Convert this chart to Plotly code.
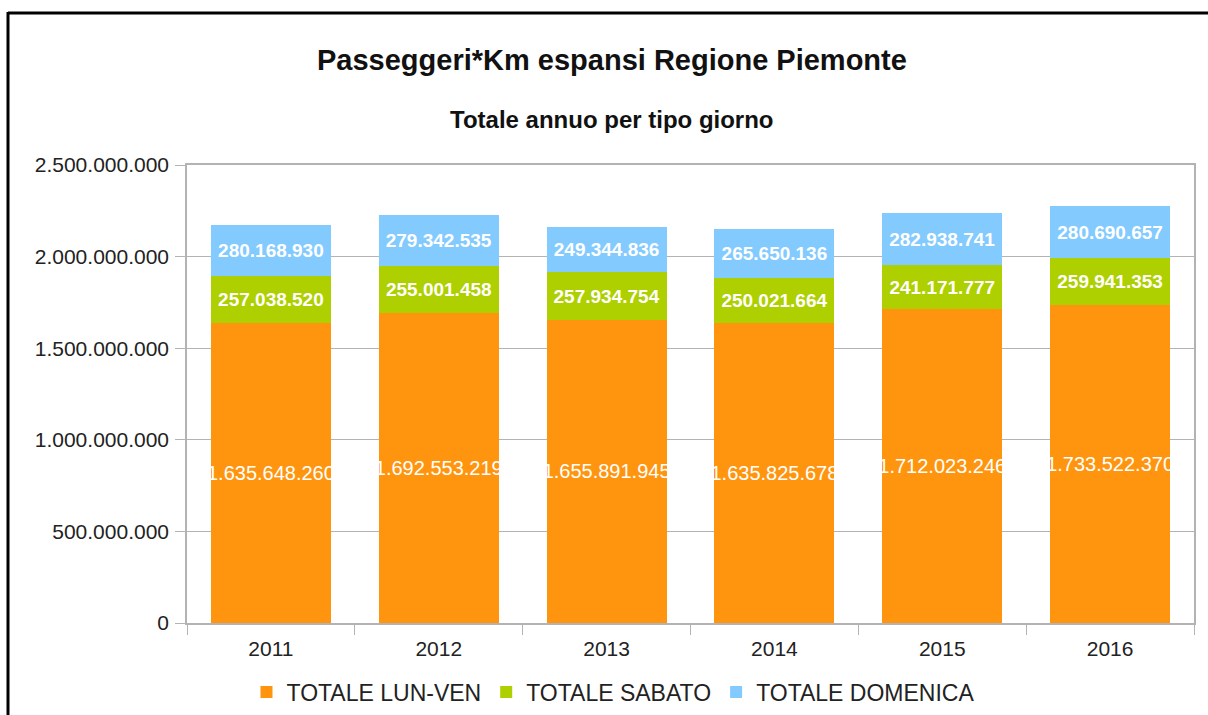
import plotly.graph_objects as go

years = ["2011", "2012", "2013", "2014", "2015", "2016"]
lun_ven = [1635648260, 1692553219, 1655891945, 1635825678, 1712023246, 1733522370]
sabato = [257038520, 255001458, 257934754, 250021664, 241171777, 259941353]
domenica = [280168930, 279342535, 249344836, 265650136, 282938741, 280690657]
series_names = ["TOTALE LUN-VEN", "TOTALE SABATO", "TOTALE DOMENICA"]
colors = ["#ff950e", "#aecf00", "#83caff"]

FONT = "Liberation Sans, Arial, sans-serif"

def fmt(v):
    return f"{v:,}".replace(",", ".")

label_fonts = [
    dict(family=FONT, size=20, color="white"),
    dict(family=FONT, size=19, color="white", weight="bold"),
    dict(family=FONT, size=19, color="white", weight="bold"),
]

fig = go.Figure()
for name, vals, col, tf in zip(series_names, [lun_ven, sabato, domenica], colors, label_fonts):
    fig.add_trace(go.Bar(
        x=years, y=vals, name=name,
        marker=dict(color=col, line=dict(width=0)),
        text=[fmt(v) for v in vals],
        textposition="inside", insidetextanchor="middle",
        textangle=0, constraintext="none",
        textfont=tf,
        hoverinfo="skip",
    ))

L, R, T, B = 187, 14, 165, 92
W, H = 1208, 715
pw, ph = W - L - R, H - T - B

fig.update_layout(
    barmode="stack",
    bargap=0.285,
    width=W, height=H,
    margin=dict(l=L, r=R, t=T, b=B, pad=0, autoexpand=False),
    paper_bgcolor="white", plot_bgcolor="white",
    separators=",.",
    font=dict(family=FONT, size=21, color="#222222"),
    showlegend=True,
    legend=dict(orientation="h", x=(613 - L) / pw, xanchor="center",
                y=-(692 - (H - B)) / ph, yanchor="middle",
                font=dict(family=FONT, size=23, color="#222222"),
                itemwidth=30, traceorder="normal", tracegroupgap=0),
    annotations=[
        dict(text="<b>Passeggeri*Km espansi Regione Piemonte</b>", xref="paper", yref="paper",
             x=(612 - L) / pw, y=1 + (T - 60) / ph, xanchor="center", yanchor="middle",
             showarrow=False, font=dict(family=FONT, size=29, color="#111111")),
        dict(text="<b>Totale annuo per tipo giorno</b>", xref="paper", yref="paper",
             x=(612 - L) / pw, y=1 + (T - 119) / ph, xanchor="center", yanchor="middle",
             showarrow=False, font=dict(family=FONT, size=24, color="#111111")),
    ],
    shapes=[
        dict(type="line", xref="paper", yref="paper",
             x0=(8 - L) / pw, x1=(W + 5 - L) / pw,
             y0=1 + (T - 13) / ph, y1=1 + (T - 13) / ph,
             line=dict(color="black", width=3)),
        dict(type="line", xref="paper", yref="paper",
             x0=(8 - L) / pw, x1=(8 - L) / pw,
             y0=1 + (T - 12) / ph, y1=-(B + 10) / ph,
             line=dict(color="black", width=3)),
    ],
)
fig.update_xaxes(
    type="category",
    showline=True, linecolor="#b3b3b3", linewidth=1.5, mirror=True,
    ticks="outside", tickson="boundaries", ticklen=10, tickcolor="#b3b3b3",
    tickfont=dict(family=FONT, size=21, color="#222222"),
    ticklabelstandoff=6,
    showgrid=False, automargin=False,
)
fig.update_yaxes(
    range=[0, 2500000000], dtick=500000000, tickformat=",.0f",
    showline=True, linecolor="#b3b3b3", linewidth=1.5, mirror=True,
    ticks="outside", ticklen=10, tickcolor="#b3b3b3",
    showgrid=True, gridcolor="#b3b3b3", gridwidth=1.2,
    tickfont=dict(family=FONT, size=21, color="#222222"),
    ticklabelstandoff=2,
    zeroline=False, automargin=False,
)

fig.write_html("out.html", config={"displayModeBar": False},
               post_script="document.body.style.margin='0';document.body.style.overflow='hidden';")
